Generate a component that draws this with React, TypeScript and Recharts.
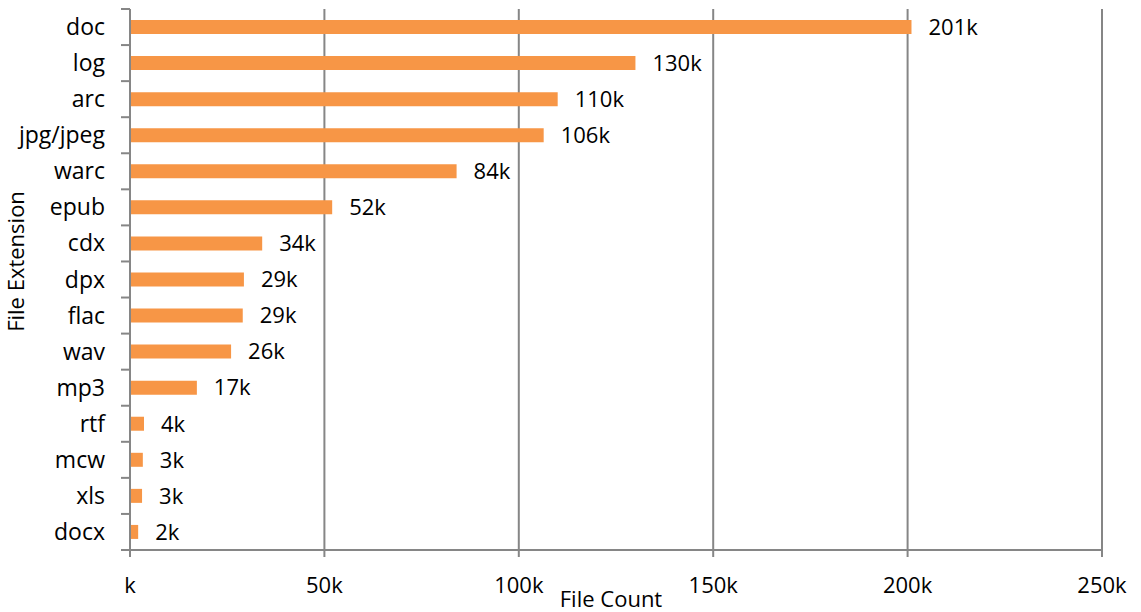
import { Bar, BarChart, CartesianGrid, LabelList, XAxis, YAxis } from "recharts";

const extensions = [
  "doc", "log", "arc", "jpg/jpeg", "warc", "epub", "cdx", "dpx",
  "flac", "wav", "mp3", "rtf", "mcw", "xls", "docx",
];
const fileCounts = [
  201000, 130000, 110000, 106400, 84000, 52000, 34000, 29300,
  29000, 26000, 17200, 3600, 3300, 3100, 2100,
];
const xTicks = [0, 50000, 100000, 150000, 200000, 250000];

const FONT = "'Open Sans', sans-serif";
const SIZE = 22;
const AXIS = "#868686";
const ORANGE = "#F79646";

const data = extensions.map((ext, i) => ({ ext, count: fileCounts[i] }));

// Excel puts the category ticks between the bars, so draw them at the band edges.
function CategoryTick(props: any) {
  const { x, y, payload, index } = props;
  const half = payload?.offset ?? 18;
  const last = index === extensions.length - 1;
  return (
    <g>
      <line x1={x + 16} x2={x + 25} y1={y - half} y2={y - half} stroke={AXIS} strokeWidth={2} />
      {last && <line x1={x + 16} x2={x + 25} y1={y + half} y2={y + half} stroke={AXIS} strokeWidth={2} />}
      <text x={x} y={y} dy="0.35em" textAnchor="end" fill="#000" fontSize={SIZE + 1} fontFamily={FONT}>
        {payload.value}
      </text>
    </g>
  );
}

export default function App() {
  return (
    <div style={{ position: "absolute", left: 0, top: 0, background: "#fff" }}>
      <BarChart
        width={1141}
        height={612}
        data={data}
        layout="vertical"
        margin={{ top: 9, right: 39, bottom: 0, left: 0 }}
      >
        <CartesianGrid horizontal={false} stroke={AXIS} strokeWidth={2} />
        <XAxis
          type="number"
          domain={[0, 250000]}
          ticks={xTicks}
          height={62}
          tickFormatter={(v) => `${v / 1000 || ""}k`}
          tick={{ fill: "#000", fontSize: SIZE, fontFamily: FONT }}
          tickSize={7}
          tickMargin={20}
          axisLine={{ stroke: AXIS, strokeWidth: 2 }}
          tickLine={{ stroke: AXIS, strokeWidth: 2 }}
          label={({ viewBox }: any) => (
            <text
              x={viewBox.x + viewBox.width / 2 - 5}
              y={607}
              textAnchor="middle"
              fill="#000"
              fontSize={SIZE}
              fontFamily={FONT}
            >
              File Count
            </text>
          )}
        />
        <YAxis
          type="category"
          dataKey="ext"
          width={130}
          tickSize={9}
          tickMargin={16}
          tickLine={false}
          tick={<CategoryTick />}
          interval={0}
          axisLine={{ stroke: AXIS, strokeWidth: 2 }}
          label={({ viewBox }: any) => (
            <text
              transform={`translate(15, ${viewBox.y + viewBox.height / 2 - 18}) rotate(-90)`}
              textAnchor="middle"
              dominantBaseline="central"
              fill="#000"
              fontSize={SIZE}
              fontFamily={FONT}
            >
              File Extension
            </text>
          )}
        />
        <Bar dataKey="count" fill={ORANGE} barSize={14} isAnimationActive={false}>
          <LabelList
            dataKey="count"
            position="right"
            offset={17}
            formatter={(v: any) => `${Math.round(Number(v) / 1000)}k`}
            fill="#000"
            fontSize={SIZE}
            fontFamily={FONT}
          />
        </Bar>
      </BarChart>
    </div>
  );
}
